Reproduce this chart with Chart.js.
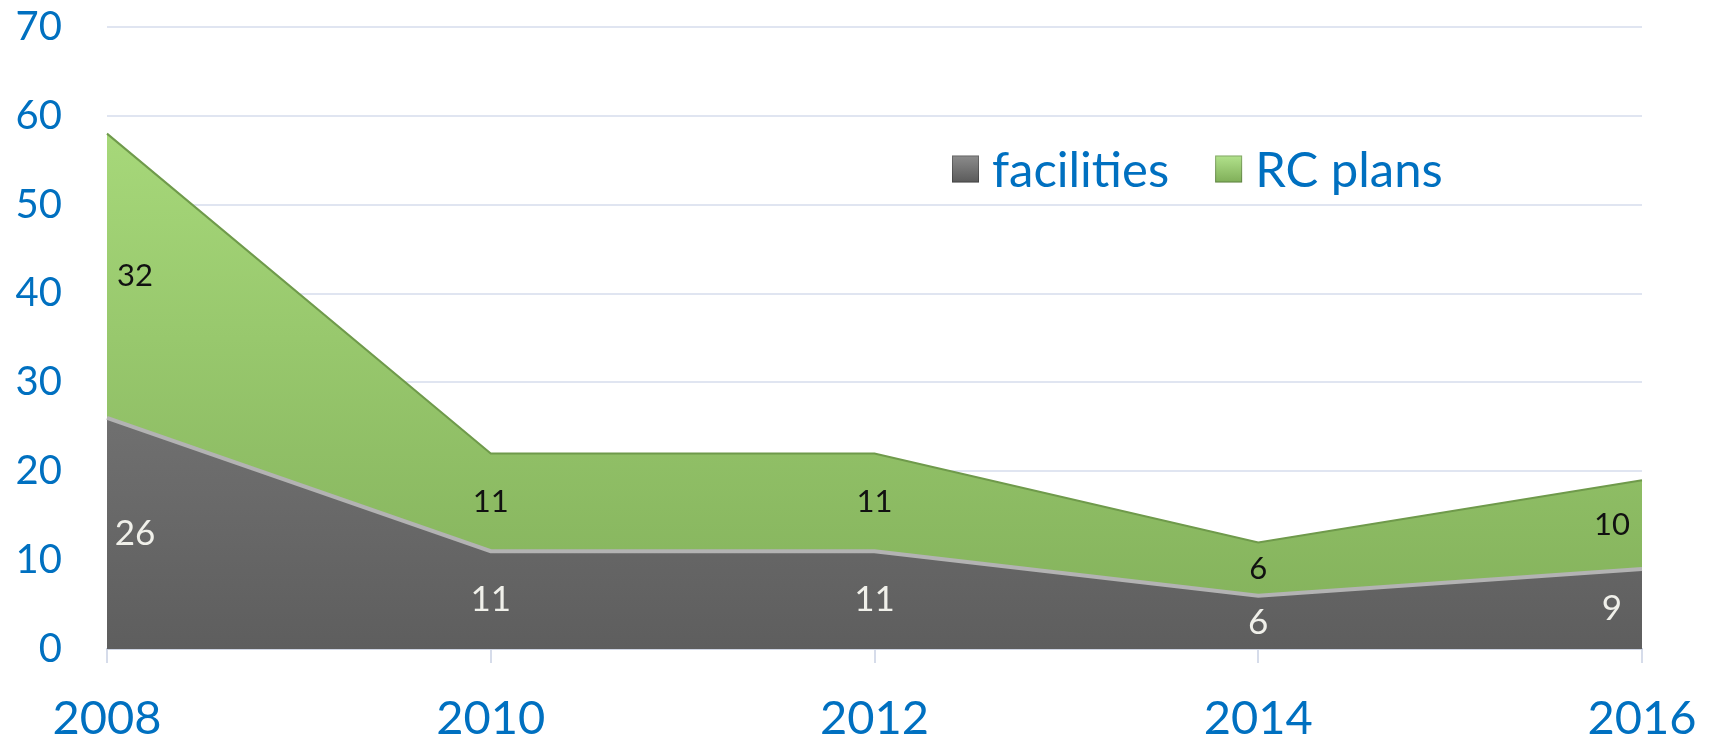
<!DOCTYPE html>
<html>
<head>
<meta charset="utf-8">
<script src="https://cdn.jsdelivr.net/npm/chart.js@4.4.0/dist/chart.umd.min.js"></script>
<style>
html, body { margin: 0; padding: 0; background: #fff; }
#wrap { width: 1711px; height: 739px; position: relative; }
</style>
</head>
<body>
<div id="wrap"><canvas id="grafico"></canvas></div>
<script>
// dados do gráfico
var anos = ["2008", "2010", "2012", "2014", "2016"];
var facilities = [26, 11, 11, 6, 9];
var rcPlans = [32, 11, 11, 6, 10];
var nomesSeries = ["facilities", "RC plans"];
var yMax = 70;
var yPasso = 10;

var azul = "#0070c0";
var fonte = "Lato, 'Open Sans', sans-serif";

function gradiente(chart, topo, base) {
    var area = chart.chartArea;
    if (!area) return base;
    var g = chart.ctx.createLinearGradient(0, area.top, 0, area.bottom);
    g.addColorStop(0, topo);
    g.addColorStop(1, base);
    return g;
}

// rótulos de valores no meio de cada faixa
var rotulosPlugin = {
    id: 'rotulos',
    afterDatasetsDraw: function (chart) {
        var ctx = chart.ctx;
        var sx = chart.scales.x, sy = chart.scales.y;
        var n = anos.length;
        ctx.save();
        ctx.textAlign = 'center';
        ctx.textBaseline = 'middle';
        chart.data.datasets.forEach(function (ds, i) {
            ds.data.forEach(function (v, j) {
                var base = 0;
                for (var k = 0; k < i; k++) base += chart.data.datasets[k].data[j];
                var x = sx.getPixelForValue(j);
                if (j === 0) x += 28;
                if (j === n - 1) x -= 30;
                var y = sy.getPixelForValue(base + v / 2);
                if (i === 0) {
                    ctx.fillStyle = '#f0f0ea';
                    ctx.font = "35px " + fonte;
                } else {
                    ctx.fillStyle = '#111111';
                    ctx.font = "31px " + fonte;
                }
                ctx.fillText(String(v), x, y);
            });
        });
        ctx.restore();
    }
};

// legenda dentro da área do gráfico
var legendaPlugin = {
    id: 'legendaInterna',
    afterDraw: function (chart) {
        var ctx = chart.ctx;
        var cores = [['#8c8c8c', '#5a5a5a'], ['#b2e28c', '#7fae58']];
        var x = 952, y = 169, lado = 27;
        ctx.save();
        ctx.font = "49px " + fonte;
        ctx.textBaseline = 'middle';
        ctx.textAlign = 'left';
        nomesSeries.forEach(function (nome, i) {
            var g = ctx.createLinearGradient(0, y - lado / 2, 0, y + lado / 2);
            g.addColorStop(0, cores[i][0]);
            g.addColorStop(1, cores[i][1]);
            ctx.fillStyle = g;
            ctx.fillRect(x, y - lado / 2, lado, lado);
            ctx.strokeStyle = 'rgba(0,0,0,0.25)';
            ctx.lineWidth = 1;
            ctx.strokeRect(x + 0.5, y - lado / 2 + 0.5, lado - 1, lado - 1);
            ctx.fillStyle = azul;
            ctx.fillText(nome, x + lado + 13, y + 2);
            x += lado + 13 + ctx.measureText(nome).width + 46;
        });
        ctx.restore();
    }
};

var ctx = document.getElementById('grafico').getContext('2d');
var meuGrafico = new Chart(ctx, {
    type: 'line',
    data: {
        labels: anos,
        datasets: [{
            label: nomesSeries[0],
            data: facilities,
            fill: 'origin',
            backgroundColor: function (c) { return gradiente(c.chart, '#8e8e8e', '#5e5e5e'); },
            borderColor: '#b3b3b3',
            borderWidth: 4,
            pointRadius: 0,
            tension: 0
        }, {
            label: nomesSeries[1],
            data: rcPlans,
            fill: '-1',
            backgroundColor: function (c) { return gradiente(c.chart, '#aee080', '#82b05a'); },
            borderColor: '#6f9a4b',
            borderWidth: 2,
            pointRadius: 0,
            tension: 0
        }]
    },
    options: {
        responsive: true,
        maintainAspectRatio: false,
        animation: false,
        layout: { padding: { top: 27, right: 69, left: 0, bottom: 0 } },
        plugins: {
            legend: { display: false },
            tooltip: { enabled: false }
        },
        scales: {
            x: {
                offset: false,
                afterFit: function (s) { s.height = 90; s.paddingLeft = 0; s.paddingRight = 0; },
                grid: { drawOnChartArea: false, drawTicks: true, tickLength: 14, color: '#d6dcea', lineWidth: 2 },
                border: { display: true, color: '#cfd5e3', width: 2 },
                ticks: { color: azul, font: { family: fonte, size: 47 }, padding: 28, maxRotation: 0 }
            },
            y: {
                stacked: true,
                min: 0,
                max: yMax,
                afterFit: function (s) { s.width = 107; s.paddingTop = 0; s.paddingBottom = 0; },
                grid: { color: '#e0e5f1', lineWidth: 2, drawTicks: false },
                border: { display: false },
                ticks: { stepSize: yPasso, color: azul, font: { family: fonte, size: 40 }, padding: 45 }
            }
        }
    },
    plugins: [rotulosPlugin, legendaPlugin]
});
</script>
</body>
</html>
